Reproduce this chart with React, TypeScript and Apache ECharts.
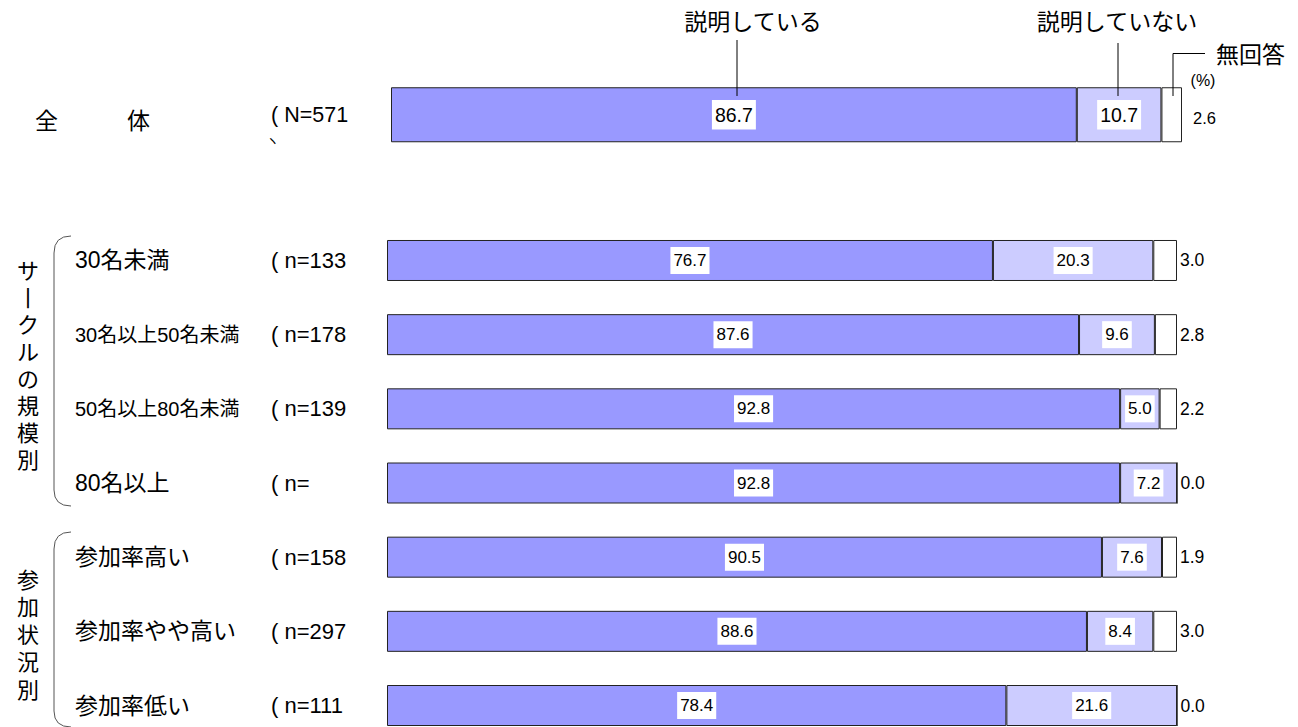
import React, { useEffect, useRef } from "react";
import * as echarts from "echarts";

const FONT = "'Liberation Sans', Arial, 'Noto Sans CJK JP', sans-serif";

// Overall row
const totalCategory = ["全　　　体"];
const totalN = ["571"];
const totalExplained = [86.7];
const totalNotExplained = [10.7];
const totalNoAnswer = [2.6];

// Breakdown rows
const categories = [
  "30名未満",
  "30名以上50名未満",
  "50名以上80名未満",
  "80名以上",
  "参加率高い",
  "参加率やや高い",
  "参加率低い",
];
const nLabels = ["133", "178", "139", "", "158", "297", "111"];
const explained = [76.7, 87.6, 92.8, 92.8, 90.5, 88.6, 78.4];
const notExplained = [20.3, 9.6, 5.0, 7.2, 7.6, 8.4, 21.6];
const noAnswer = [3.0, 2.8, 2.2, 0.0, 1.9, 3.0, 0.0];

const seriesNames = ["説明している", "説明していない", "無回答"];
const colors = ["#9999ff", "#ccccff", "#ffffff"];

export default function App() {
  const ref = useRef<HTMLDivElement>(null);

  useEffect(() => {
    if (!ref.current) return;
    const chart = echarts.init(ref.current, null, { renderer: "svg" });

    const fmt = (p: any) => Number(p.value).toFixed(1);
    const insideLabel = (size: number) => ({
      show: true,
      position: "inside",
      color: "#000",
      fontSize: size,
      fontFamily: FONT,
      backgroundColor: "#ffffff",
      padding: [5, 3, 5, 3],
      formatter: fmt,
    });
    const rightLabel = (size: number, dist: number) => ({
      show: true,
      position: "right",
      distance: dist,
      color: "#000",
      fontSize: size,
      fontFamily: FONT,
      formatter: fmt,
    });
    const itemStyle = (i: number) => ({
      color: colors[i],
      borderColor: "#222",
      borderWidth: 1,
    });

    const textEl = (text: string, x: number, y: number, size: number, align = "center", extra: any = {}) => ({
      type: "text",
      x,
      y,
      z: 100,
      style: {
        text,
        fontSize: size,
        fontFamily: FONT,
        fill: "#000",
        align,
        verticalAlign: "middle",
        textAlign: align,
        textVerticalAlign: "middle",
        ...extra,
      },
    });
    const lineEl = (x1: number, y1: number, x2: number, y2: number, stroke = "#000") => ({
      type: "line",
      z: 100,
      shape: { x1, y1, x2, y2 },
      style: { stroke, lineWidth: 1 },
    });
    const curveEl = (x1: number, y1: number, cx: number, cy: number, x2: number, y2: number) => ({
      type: "bezierCurve",
      z: 100,
      shape: { x1, y1, cpx1: cx, cpy1: cy, x2, y2 },
      style: { stroke: "#555", lineWidth: 1, fill: "none" },
    });

    const option: any = {
      animation: false,
      textStyle: { fontFamily: FONT },
      grid: [
        { left: 391, top: 87, width: 791, height: 55.5 },
        { left: 387, top: 223.4, width: 790, height: 519.2 },
      ],
      xAxis: [
        { type: "value", gridIndex: 0, min: 0, max: 100, show: false },
        { type: "value", gridIndex: 1, min: 0, max: 100, show: false },
      ],
      yAxis: [
        {
          type: "category",
          gridIndex: 0,
          inverse: true,
          data: totalCategory,
          axisLine: { show: false },
          axisTick: { show: false },
          axisLabel: {
            align: "left",
            margin: 356,
            formatter: (v: string, i: number) => `{a|${v}}{b|( N=${totalN[i]}}`,
            rich: {
              a: { width: 236, fontSize: 23, fontFamily: FONT, color: "#000", padding: [12, 0, 0, 0] },
              b: { fontSize: 21.5, fontFamily: FONT, color: "#000" },
            },
          },
        },
        {
          type: "category",
          gridIndex: 1,
          inverse: true,
          data: categories,
          axisLine: { show: false },
          axisTick: { show: false },
          axisLabel: {
            align: "left",
            margin: 312,
            formatter: (v: string, i: number) => {
              const key = v.length > 8 ? "s" : "a";
              return `{${key}|${v}}{b|( n=${nLabels[i]}}`;
            },
            rich: {
              a: { width: 196, fontSize: 23, fontFamily: FONT, color: "#000" },
              s: { width: 196, fontSize: 20, fontFamily: FONT, color: "#000" },
              b: { fontSize: 22, fontFamily: FONT, color: "#000" },
            },
          },
        },
      ],
      series: [
        {
          name: seriesNames[0], type: "bar", stack: "t", xAxisIndex: 0, yAxisIndex: 0,
          barWidth: 55, data: totalExplained, itemStyle: itemStyle(0), label: insideLabel(19.5),
        },
        {
          name: seriesNames[1], type: "bar", stack: "t", xAxisIndex: 0, yAxisIndex: 0,
          barWidth: 55, data: totalNotExplained, itemStyle: itemStyle(1), label: insideLabel(19.5),
        },
        {
          name: seriesNames[2], type: "bar", stack: "t", xAxisIndex: 0, yAxisIndex: 0,
          barWidth: 55, data: totalNoAnswer, itemStyle: itemStyle(2),
          label: { ...rightLabel(16.5, 11), offset: [0, 3] },
        },
        {
          name: seriesNames[0], type: "bar", stack: "r", xAxisIndex: 1, yAxisIndex: 1,
          barWidth: 41, data: explained, itemStyle: itemStyle(0), label: insideLabel(17),
        },
        {
          name: seriesNames[1], type: "bar", stack: "r", xAxisIndex: 1, yAxisIndex: 1,
          barWidth: 41, data: notExplained, itemStyle: itemStyle(1), label: insideLabel(17),
        },
        {
          name: seriesNames[2], type: "bar", stack: "r", xAxisIndex: 1, yAxisIndex: 1,
          barWidth: 41, data: noAnswer, itemStyle: itemStyle(2), label: rightLabel(17.5, 3),
        },
      ],
      graphic: [
        // series callouts
        textEl(seriesNames[0], 753, 22, 23),
        lineEl(737, 40, 737, 96),
        textEl(seriesNames[1], 1117, 22, 23),
        lineEl(1118, 43, 1118, 96),
        textEl(seriesNames[2], 1216, 55, 23, "left"),
        lineEl(1173, 53.5, 1205, 53.5),
        lineEl(1173, 53.5, 1173, 96),
        textEl("(%)", 1203, 80, 16),
        textEl("ヽ", 266, 140, 13, "left"),
        // group labels
        textEl("サ\n丨\nク\nル\nの\n規\n模\n別", 28, 366, 22, "center", { lineHeight: 27 }),
        textEl("参\n加\n状\n況\n別", 28, 635, 22, "center", { lineHeight: 27.5 }),
        // brackets
        curveEl(71, 236, 54, 236, 54, 253),
        lineEl(54, 253, 54, 490, "#555"),
        curveEl(54, 490, 54, 506, 71, 506),
        curveEl(71, 532, 54, 532, 54, 549),
        lineEl(54, 549, 54, 711, "#555"),
        curveEl(54, 711, 54, 727, 71, 727),
      ],
    };

    chart.setOption(option);
    return () => chart.dispose();
  }, []);

  return (
    <div
      ref={ref}
      style={{ position: "fixed", left: 0, top: 0, width: 1298, height: 760, background: "#fff" }}
    />
  );
}
